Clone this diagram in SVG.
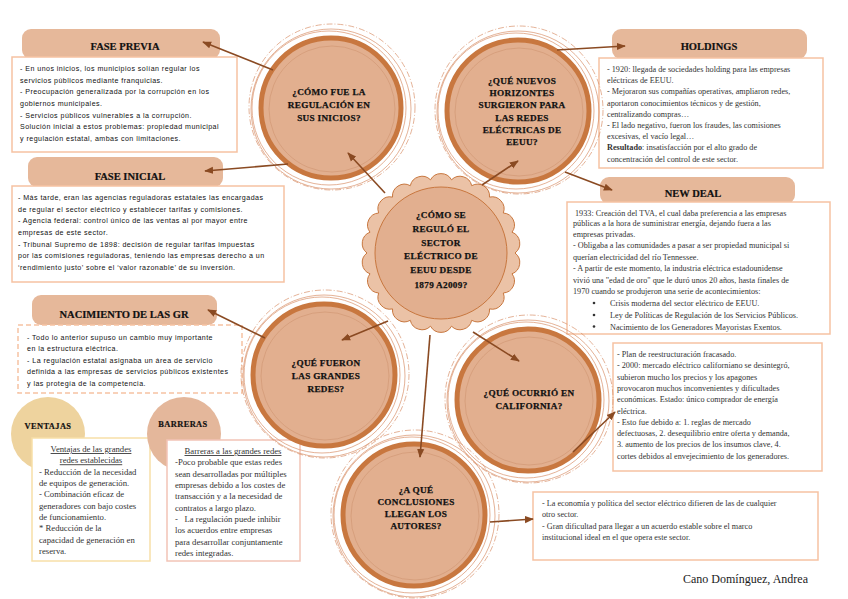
<svg xmlns="http://www.w3.org/2000/svg" width="848" height="599" viewBox="0 0 848 599">
<style>
.bg{fill:#ffffff}
.r1{fill:none;stroke:#d8916a;stroke-width:0.7}
.r2{fill:none;stroke:#d8916a;stroke-width:0.7;stroke-dasharray:6 2 1 2}
.cf{fill:#e2af8f;stroke:#c8773f;stroke-width:5}
.ci{fill:none;stroke:#cf9470;stroke-width:0.6}
.ct{font-family:"Liberation Serif","DejaVu Serif",serif;font-weight:bold;font-size:9.2px;fill:#111;stroke:#111;stroke-width:0.25;text-anchor:middle;letter-spacing:0.3px}
.tb{fill:#e6b89a}
.tt{font-family:"Liberation Serif","DejaVu Serif",serif;font-weight:bold;font-size:10.5px;fill:#111;stroke:#111;stroke-width:0.2;text-anchor:middle}
.box{fill:#ffffff;stroke:#f6c2a2;stroke-width:1.5}
.sans{font-family:"Liberation Sans","DejaVu Sans",sans-serif;font-size:7.1px;fill:#111;letter-spacing:0.45px}
.ser{font-family:"Liberation Serif","DejaVu Serif",serif;font-size:8.2px;fill:#333}
.ser2{font-family:"Liberation Serif","DejaVu Serif",serif;font-size:8.7px;fill:#333}
.con{fill:none;stroke:#8a4a22;stroke-width:1.6}
</style>
<defs>
<marker id="ah" viewBox="0 0 10 10" refX="9" refY="5" markerWidth="9" markerHeight="9" markerUnits="userSpaceOnUse" orient="auto">
<path d="M0,1 L10,5 L0,9 z" fill="#8a4a22"/>
</marker>
</defs>
<rect class="bg" x="0" y="0" width="848" height="599"/>

<!-- Left boxes -->
<g id="fase-previa">
<rect class="tb" x="22" y="29" width="198" height="30" rx="9"/>
<text class="tt" x="125" y="50">FASE PREVIA</text>
<rect class="box" x="12" y="57" width="225" height="95"/>
<text class="sans" x="20" y="71">- En unos inicios, los municipios solían regular los</text>
<text class="sans" x="20" y="82.7">servicios públicos mediante franquicias.</text>
<text class="sans" x="20" y="94.4">- Preocupación generalizada por la corrupción en los</text>
<text class="sans" x="20" y="106">gobiernos municipales.</text>
<text class="sans" x="20" y="117.7">- Servicios públicos vulnerables a la corrupción.</text>
<text class="sans" x="20" y="129.4">Solución inicial a estos problemas: propiedad municipal</text>
<text class="sans" x="20" y="141">y regulación estatal, ambas con limitaciones.</text>
</g>

<g id="fase-inicial">
<rect class="tb" x="28" y="157" width="195" height="30" rx="9"/>
<text class="tt" x="130" y="180">FASE INICIAL</text>
<rect class="box" x="12" y="186" width="272" height="96"/>
<text class="sans" x="18" y="200">- Más tarde, eran las agencias reguladoras estatales las encargadas</text>
<text class="sans" x="18" y="211.7">de regular el sector eléctrico y establecer tarifas y comisiones.</text>
<text class="sans" x="18" y="223.4">- Agencia federal: control único de las ventas al por mayor entre</text>
<text class="sans" x="18" y="235">empresas de este sector.</text>
<text class="sans" x="18" y="246.7">- Tribunal Supremo de 1898: decisión de regular tarifas impuestas</text>
<text class="sans" x="18" y="258.4">por las comisiones reguladoras, teniendo las empresas derecho a un</text>
<text class="sans" x="18" y="270">‘rendimiento justo’ sobre el ‘valor razonable’ de su inversión.</text>
</g>

<g id="nacimiento">
<rect class="tb" x="32" y="295" width="185" height="30" rx="9"/>
<text class="tt" x="124" y="318">NACIMIENTO DE LAS GR</text>
<rect class="box" x="18" y="325" width="224" height="68" stroke-dasharray="5 3"/>
<text class="sans" x="27" y="339.5">- Todo lo anterior supuso un cambio muy importante</text>
<text class="sans" x="27" y="351">en la estructura eléctrica.</text>
<text class="sans" x="27" y="362.5">- La regulación estatal asignaba un área de servicio</text>
<text class="sans" x="27" y="374">definida a las empresas de servicios públicos existentes</text>
<text class="sans" x="27" y="385.5">y las protegía de la competencia.</text>
</g>

<g id="ventajas">
<circle cx="48" cy="434" r="37" fill="#eed39e"/>
<text x="48" y="429" font-family="Liberation Serif, DejaVu Serif, serif" font-weight="bold" font-size="8.4" fill="#111" stroke="#111" stroke-width="0.2" text-anchor="middle" letter-spacing="0.4">VENTAJAS</text>
<rect x="32" y="438" width="118" height="123" fill="#ffffff" stroke="#f7dfa8" stroke-width="1.5"/>
<text class="ser2" x="91" y="452" text-anchor="middle" text-decoration="underline">Ventajas de las grandes</text>
<text class="ser2" x="91" y="463.3" text-anchor="middle" text-decoration="underline">redes establecidas</text>
<text class="ser2" x="39" y="474.6">- Reducción de la necesidad</text>
<text class="ser2" x="39" y="486">de equipos de generación.</text>
<text class="ser2" x="39" y="497.3">- Combinación eficaz de</text>
<text class="ser2" x="39" y="508.6">generadores con bajo costes</text>
<text class="ser2" x="39" y="520">de funcionamiento.</text>
<text class="ser2" x="39" y="531.3">* Reducción de la</text>
<text class="ser2" x="39" y="542.6">capacidad de generación en</text>
<text class="ser2" x="39" y="554">reserva.</text>
</g>

<g id="barreras">
<circle cx="184" cy="434" r="37" fill="#e4b79b"/>
<text x="183" y="427" font-family="Liberation Serif, DejaVu Serif, serif" font-weight="bold" font-size="8.4" fill="#111" stroke="#111" stroke-width="0.2" text-anchor="middle" letter-spacing="0.4">BARRERAS</text>
<rect x="167" y="440" width="133" height="121" fill="#ffffff" stroke="#f2c4b6" stroke-width="1.5"/>
<text class="ser2" x="233" y="454" text-anchor="middle" text-decoration="underline">Barreras a las grandes redes</text>
<text class="ser2" x="175" y="465.3">-Poco probable que estas redes</text>
<text class="ser2" x="175" y="476.6">sean desarrolladas por múltiples</text>
<text class="ser2" x="175" y="488">empresas debido a los costes de</text>
<text class="ser2" x="175" y="499.3">transacción y a la necesidad de</text>
<text class="ser2" x="175" y="510.6">contratos a largo plazo.</text>
<text class="ser2" x="175" y="522" xml:space="preserve">-   La regulación puede inhibir</text>
<text class="ser2" x="175" y="533.3">los acuerdos entre empresas</text>
<text class="ser2" x="175" y="544.6">para desarrollar conjuntamente</text>
<text class="ser2" x="175" y="556">redes integradas.</text>
</g>

<!-- Right boxes -->
<g id="holdings">
<rect class="tb" x="612" y="29" width="195" height="30" rx="9"/>
<text class="tt" x="709" y="50">HOLDINGS</text>
<rect class="box" x="599" y="58" width="224" height="110"/>
<text class="ser" x="607" y="72">- 1920: llegada de sociedades holding para las empresas</text>
<text class="ser" x="607" y="83.2">eléctricas de EEUU.</text>
<text class="ser" x="607" y="94.4">- Mejoraron sus compañías operativas, ampliaron redes,</text>
<text class="ser" x="607" y="105.6">aportaron conocimientos técnicos y de gestión,</text>
<text class="ser" x="607" y="116.8">centralizando compras…</text>
<text class="ser" x="607" y="128">- El lado negativo, fueron los fraudes, las comisiones</text>
<text class="ser" x="607" y="139.2">excesivas, el vacío legal…</text>
<text class="ser" x="607" y="150.4"><tspan font-weight="bold">Resultado</tspan>: insatisfacción por el alto grado de</text>
<text class="ser" x="607" y="161.6">concentración del control de este sector.</text>
</g>

<g id="new-deal">
<rect class="tb" x="600" y="177" width="195" height="27" rx="9"/>
<text class="tt" x="693" y="197">NEW DEAL</text>
<rect class="box" x="567" y="202" width="263" height="132"/>
<text class="ser" x="575" y="215.5">1933: Creación del TVA, el cual daba preferencia a las empresas</text>
<text class="ser" x="573" y="226">públicas a la hora de suministrar energía, dejando fuera a las</text>
<text class="ser" x="573" y="236.5">empresas privadas.</text>
<text class="ser" x="573" y="248">- Obligaba a las comunidades a pasar a ser propiedad municipal si</text>
<text class="ser" x="573" y="259.5">querían electricidad del río Tennessee.</text>
<text class="ser" x="573" y="271">- A partir de este momento, la industria eléctrica estadounidense</text>
<text class="ser" x="573" y="282.5">vivió una "edad de oro" que le duró unos 20 años, hasta finales de</text>
<text class="ser" x="573" y="294">1970 cuando se produjeron una serie de acontecimientos:</text>
<circle cx="594" cy="303" r="1.3" fill="#333"/>
<text class="ser" x="610" y="306">Crisis moderna del sector eléctrico de EEUU.</text>
<circle cx="594" cy="315" r="1.3" fill="#333"/>
<text class="ser" x="610" y="318">Ley de Políticas de Regulación de los Servicios Públicos.</text>
<circle cx="594" cy="326.5" r="1.3" fill="#333"/>
<text class="ser" x="610" y="329.5">Nacimiento de los Generadores Mayoristas Exentos.</text>
</g>

<g id="california-box">
<rect class="box" x="613" y="343" width="209" height="128"/>
<text class="ser" x="617" y="357">- Plan de reestructuración fracasado.</text>
<text class="ser" x="617" y="368.3">- 2000: mercado eléctrico californiano se desintegró,</text>
<text class="ser" x="617" y="379.6">subieron mucho los precios y los apagones</text>
<text class="ser" x="617" y="390.9">provocaron muchos inconvenientes y dificultades</text>
<text class="ser" x="617" y="402.2">económicas. Estado: único comprador de energía</text>
<text class="ser" x="617" y="413.5">eléctrica.</text>
<text class="ser" x="617" y="424.8">- Esto fue debido a: 1. reglas de mercado</text>
<text class="ser" x="617" y="436.1">defectuosas, 2. desequilibrio entre oferta y demanda,</text>
<text class="ser" x="617" y="447.4">3. aumento de los precios de los insumos clave, 4.</text>
<text class="ser" x="617" y="458.7">cortes debidos al envejecimiento de los generadores.</text>
</g>

<g id="conclusiones-box">
<rect class="box" x="533" y="492" width="285" height="68"/>
<text class="ser" x="542" y="506">- La economía y política del sector eléctrico difieren de las de cualquier</text>
<text class="ser" x="542" y="517.3">otro sector.</text>
<text class="ser" x="542" y="528.6">- Gran dificultad para llegar a un acuerdo estable sobre el marco</text>
<text class="ser" x="542" y="540">institucional ideal en el que opera este sector.</text>
</g>

<!-- Question circles -->
<g id="c-inicios">
<circle class="r1" cx="331" cy="109" r="80"/>
<circle class="r2" cx="332" cy="107" r="83"/>
<circle class="r1" cx="329" cy="108" r="77"/>
<circle class="cf" cx="331" cy="108" r="70"/>
<circle class="ci" cx="332" cy="109" r="63"/>
<text class="ct" x="329" y="95">¿CÓMO FUE LA</text>
<text class="ct" x="329" y="108">REGULACIÓN EN</text>
<text class="ct" x="329" y="121">SUS INICIOS?</text>
</g>

<g id="c-horizontes">
<circle class="r1" cx="518" cy="112" r="81"/>
<circle class="r2" cx="519" cy="110" r="84"/>
<circle class="r1" cx="516" cy="111" r="78"/>
<circle class="cf" cx="518" cy="111" r="71"/>
<circle class="ci" cx="519" cy="112" r="64"/>
<text class="ct" x="522" y="84">¿QUÉ NUEVOS</text>
<text class="ct" x="522" y="96">HORIZONTES</text>
<text class="ct" x="522" y="108">SURGIERON PARA</text>
<text class="ct" x="522" y="120.5">LAS REDES</text>
<text class="ct" x="522" y="132.5">ELÉCTRICAS DE</text>
<text class="ct" x="522" y="145">EEUU?</text>
</g>

<g id="c-grandes-redes">
<circle class="r1" cx="324" cy="376" r="81"/>
<circle class="r2" cx="325" cy="374" r="84"/>
<circle class="r1" cx="322" cy="375" r="78"/>
<circle class="cf" cx="324" cy="375" r="71"/>
<circle class="ci" cx="325" cy="376" r="64"/>
<text class="ct" x="326" y="366">¿QUÉ FUERON</text>
<text class="ct" x="326" y="379">LAS GRANDES</text>
<text class="ct" x="326" y="392">REDES?</text>
</g>

<g id="c-california">
<circle class="r1" cx="528" cy="401" r="81"/>
<circle class="r2" cx="529" cy="399" r="84"/>
<circle class="r1" cx="526" cy="400" r="78"/>
<circle class="cf" cx="528" cy="400" r="71"/>
<circle class="ci" cx="529" cy="401" r="64"/>
<text class="ct" x="529" y="396">¿QUÉ OCURRIÓ EN</text>
<text class="ct" x="529" y="409">CALIFORNIA?</text>
</g>

<g id="c-conclusiones">
<circle class="r1" cx="414" cy="516" r="81"/>
<circle class="r2" cx="415" cy="514" r="84"/>
<circle class="r1" cx="412" cy="515" r="78"/>
<circle class="cf" cx="414" cy="515" r="71"/>
<circle class="ci" cx="415" cy="516" r="64"/>
<text class="ct" x="416" y="493">¿A QUÉ</text>
<text class="ct" x="416" y="505">CONCLUSIONES</text>
<text class="ct" x="416" y="517">LLEGAN LOS</text>
<text class="ct" x="416" y="529">AUTORES?</text>
</g>

<!-- Central node -->
<g id="c-central">
<path d="M515,253 A12,12 0 0 1 512.0,273.8 A12,12 0 0 1 503.3,293.0 A12,12 0 0 1 489.5,308.9 A12,12 0 0 1 471.7,320.3 A12,12 0 0 1 451.5,326.2 A12,12 0 0 1 430.5,326.2 A12,12 0 0 1 410.3,320.3 A12,12 0 0 1 392.5,308.9 A12,12 0 0 1 378.7,293.0 A12,12 0 0 1 370.0,273.8 A12,12 0 0 1 367,253 A12,12 0 0 1 370.0,232.2 A12,12 0 0 1 378.7,213.0 A12,12 0 0 1 392.5,197.1 A12,12 0 0 1 410.3,185.7 A12,12 0 0 1 430.5,179.8 A12,12 0 0 1 451.5,179.8 A12,12 0 0 1 471.7,185.7 A12,12 0 0 1 489.5,197.1 A12,12 0 0 1 503.3,213.0 A12,12 0 0 1 512.0,232.2 A12,12 0 0 1 515,253 Z" fill="#ebc2a6" stroke="#c8773f" stroke-width="1"/>
<circle cx="441" cy="253" r="66" fill="#e2af8f" stroke="#c8773f" stroke-width="1"/>
<text class="ct" x="441" y="218" font-size="10">¿CÓMO SE</text>
<text class="ct" x="441" y="232" font-size="10">REGULÓ EL</text>
<text class="ct" x="441" y="245.5" font-size="10">SECTOR</text>
<text class="ct" x="441" y="259" font-size="10">ELÉCTRICO DE</text>
<text class="ct" x="441" y="272.5" font-size="10">EEUU DESDE</text>
<text class="ct" x="441" y="288" font-size="10">1879 A2009?</text>
</g>

<!-- Connectors -->
<g id="connectors">
<line class="con" x1="385" y1="193" x2="348" y2="153" marker-end="url(#ah)"/>
<line class="con" x1="482" y1="185" x2="518" y2="161" marker-end="url(#ah)"/>
<line class="con" x1="388" y1="321" x2="342" y2="340" marker-end="url(#ah)"/>
<line class="con" x1="473" y1="332" x2="519" y2="361" marker-end="url(#ah)"/>
<line class="con" x1="430" y1="335" x2="420" y2="457" marker-end="url(#ah)"/>
<line class="con" x1="273" y1="70" x2="203" y2="42" marker-end="url(#ah)"/>
<line class="con" x1="288" y1="164" x2="205" y2="171" marker-end="url(#ah)"/>
<line class="con" x1="557" y1="50" x2="625" y2="46" marker-end="url(#ah)"/>
<line class="con" x1="565" y1="172" x2="612" y2="190" marker-end="url(#ah)"/>
<line class="con" x1="265" y1="338" x2="208" y2="310" marker-end="url(#ah)"/>
<line class="con" x1="573" y1="452" x2="615" y2="412" marker-end="url(#ah)"/>
<line class="con" x1="490" y1="522" x2="533" y2="519" marker-end="url(#ah)"/>
</g>

<text x="808" y="583" font-family="Liberation Serif, DejaVu Serif, serif" font-size="12" fill="#1a1a1a" text-anchor="end">Cano Domínguez, Andrea</text>
</svg>
